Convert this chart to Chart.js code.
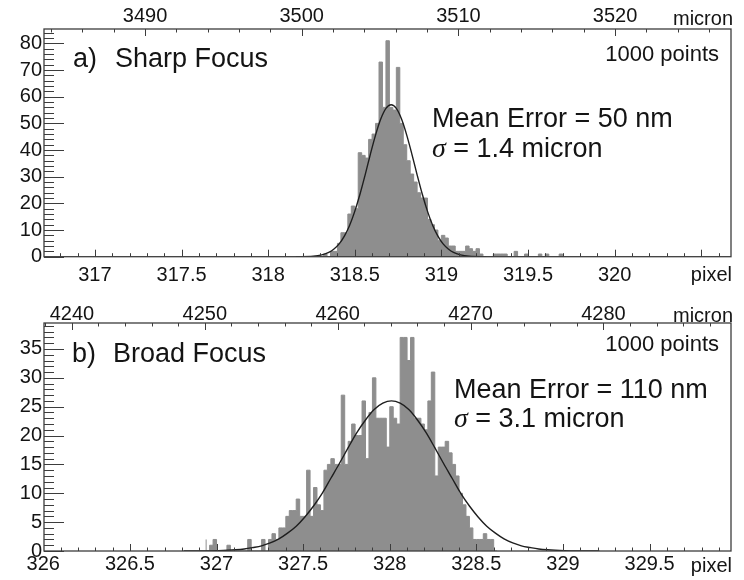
<!DOCTYPE html>
<html>
<head>
<meta charset="utf-8">
<script src="https://cdn.jsdelivr.net/npm/chart.js@4.4.0/dist/chart.umd.min.js"></script>
<style>
  html, body { margin: 0; padding: 0; background: #fff; }
  #wrap { position: relative; width: 744px; height: 580px; }
  .panel { position: absolute; left: 0; width: 744px; height: 290px; }
</style>
</head>
<body>
<div id="wrap">
  <div class="panel" style="top:0"><canvas id="chartA" width="744" height="290"></canvas></div>
  <div class="panel" style="top:290px"><canvas id="chartB" width="744" height="290"></canvas></div>
</div>
<script>
// histogram bins (width in pixel units)
const BIN_WIDTH = 0.02;

// a) sharp focus
const A_BIN_START = 318.30;
const A_COUNTS = [0, 0, 1, 0, 2, 2, 5, 9, 9, 16, 19, 18, 39, 38, 37, 44, 46, 50, 73, 56,
                  81, 56, 55, 71, 50, 42, 36, 31, 28, 24, 22, 22, 14, 12, 10, 6, 8, 7, 4, 4,
                  2, 2, 2, 4, 3, 2, 3, 1, 0, 0, 0, 1, 1, 1, 1, 0, 0, 2, 0, 0,
                  1, 0, 0, 0, 1, 0, 1, 0, 0, 0, 1];
const A_FIT_X = [318.16, 318.26, 318.31, 318.35, 318.38, 318.41, 318.44, 318.47, 318.50, 318.53,
                 318.56, 318.59, 318.62, 318.65, 318.68, 318.71, 318.74, 318.77, 318.80, 318.83,
                 318.86, 318.89, 318.92, 318.95, 318.98, 319.01, 319.04, 319.07, 319.11, 319.16, 319.26];
const A_FIT_Y = [0.01, 0.2, 0.7, 1.6, 2.9, 4.8, 7.7, 11.7, 17.0, 23.4,
                 30.7, 38.4, 45.6, 51.6, 55.6, 57.0, 55.6, 51.6, 45.6, 38.4,
                 30.7, 23.4, 17.0, 11.7, 7.7, 4.8, 2.9, 1.6, 0.7, 0.2, 0.01];
const A_PIXEL_TICKS = [317, 317.5, 318, 318.5, 319, 319.5, 320];
const A_MICRON_TICKS = [3490, 3500, 3510, 3520];
const A_COUNT_TICKS = [0, 10, 20, 30, 40, 50, 60, 70, 80];

// b) broad focus
const B_BIN_START = 326.94;
const B_COUNTS = [2, 0, 1, 2, 0, 0, 0, 1, 0, 0, 0, 0, 0, 2, 0, 0, 0, 2, 0, 2,
                  3, 2, 4, 4, 6, 7, 7, 9, 6, 6, 14, 6, 11, 8, 7, 14, 15, 16, 15, 15,
                  27, 15, 19, 22, 20, 20, 26, 16, 24, 30, 23, 23, 23, 18, 25, 23, 22, 37, 37, 33,
                  37, 23, 23, 22, 21, 26, 31, 13, 18, 18, 19, 17, 15, 13, 10, 8, 6, 4, 2, 2,
                  2, 3, 2, 2];
const B_FIT_X = [326.81, 326.91, 327.01, 327.11, 327.16, 327.21, 327.26, 327.31, 327.36, 327.41,
                 327.46, 327.51, 327.56, 327.61, 327.66, 327.71, 327.76, 327.81, 327.86, 327.91,
                 327.96, 328.01, 328.06, 328.11, 328.16, 328.21, 328.26, 328.31, 328.36, 328.41,
                 328.46, 328.51, 328.56, 328.61, 328.66, 328.71, 328.76, 328.81, 328.86, 328.91,
                 329.01, 329.11, 329.21];
const B_FIT_Y = [0.004, 0.02, 0.07, 0.21, 0.35, 0.6, 0.9, 1.4, 2.1, 3.1,
                 4.3, 5.9, 7.8, 10.0, 12.6, 15.2, 17.9, 20.5, 22.7, 24.5,
                 25.6, 26.0, 25.6, 24.5, 22.7, 20.5, 17.9, 15.2, 12.6, 10.0,
                 7.8, 5.9, 4.3, 3.1, 2.1, 1.4, 0.9, 0.6, 0.35, 0.21,
                 0.07, 0.02, 0.004];
const B_PIXEL_TICKS = [326, 326.5, 327, 327.5, 328, 328.5, 329, 329.5];
const B_MICRON_TICKS = [4240, 4250, 4260, 4270, 4280];
const B_COUNT_TICKS = [0, 5, 10, 15, 20, 25, 30, 35];

const HIST_COLOR = '#8e8e8e';
const FIT_COLOR = '#1e1e1e';
const AXIS_COLOR = '#3c3c3c';
const TEXT_COLOR = '#141414';
const SANS = "'Liberation Sans', Arial, sans-serif";
const SERIF = "'Liberation Serif', 'Times New Roman', serif";

// ticks on the inside of the frame, frame box, and the labels in the pad
const histDecor = {
    id: 'histDecor',
    afterDraw(chart, args, o) {
        const { ctx, chartArea: a, scales } = chart;
        ctx.save();
        ctx.strokeStyle = AXIS_COLOR;
        ctx.lineWidth = 1.3;
        ctx.strokeRect(a.left, a.top, a.right - a.left, a.bottom - a.top);

        const drawTicks = (scale, minor, major, lenMinor, lenMajor, side) => {
            const i0 = Math.ceil(scale.min / minor - 1e-6);
            const i1 = Math.floor(scale.max / minor + 1e-6);
            ctx.beginPath();
            for (let i = i0; i <= i1; i++) {
                const v = i * minor;
                const r = v / major;
                const len = Math.abs(r - Math.round(r)) < 1e-6 ? lenMajor : lenMinor;
                const p = Math.round(scale.getPixelForValue(v)) + 0.5;
                if (side === 'left') { ctx.moveTo(a.left, p); ctx.lineTo(a.left + len, p); }
                if (side === 'bottom') { ctx.moveTo(p, a.bottom); ctx.lineTo(p, a.bottom - len); }
                if (side === 'top') { ctx.moveTo(p, a.top); ctx.lineTo(p, a.top + len); }
            }
            ctx.lineWidth = 1;
            ctx.stroke();
        };
        drawTicks(scales.y, o.yMinor, o.yMajor, 10, 20, 'left');
        drawTicks(scales.x, 0.1, 0.5, 3.5, 7, 'bottom');
        drawTicks(scales.xTop, 2, 10, 3.5, 7, 'top');

        ctx.fillStyle = TEXT_COLOR;
        ctx.textBaseline = 'alphabetic';
        ctx.textAlign = 'left';
        ctx.font = '27px ' + SANS;
        ctx.fillText(o.tag, o.tagX, o.titleY);
        ctx.fillText(o.title, o.titleX, o.titleY);
        ctx.fillText(o.mean, o.infoX, o.meanY);
        ctx.font = 'italic 28px ' + SERIF;
        ctx.fillText('\u03c3', o.infoX, o.sigmaY);
        const sw = ctx.measureText('\u03c3').width;
        ctx.font = '27px ' + SANS;
        ctx.fillText(' = ' + o.sigma, o.infoX + sw, o.sigmaY);

        ctx.textAlign = 'right';
        ctx.font = '22px ' + SANS;
        ctx.fillText(o.points, 719, o.pointsY);
        ctx.font = '20px ' + SANS;
        ctx.fillText('micron', 733, o.micronY);
        ctx.fillText('pixel', 732, o.pixelY);
        ctx.restore();
    }
};

function histPoints(start, counts) {
    const pts = counts.map((c, i) => ({ x: start + i * BIN_WIDTH, y: c }));
    pts.push({ x: start + counts.length * BIN_WIDTH, y: 0 });
    return pts;
}

function fixedTicks(values) {
    return scale => { scale.ticks = values.map(value => ({ value })); };
}

function makeHistPanel(canvasId, cfg) {
    const tickFont = { family: SANS, size: 20, lineHeight: 1 };
    return new Chart(document.getElementById(canvasId), {
        type: 'line',
        data: {
            datasets: [{
                data: cfg.fitX.map((x, i) => ({ x, y: cfg.fitY[i] })),
                borderColor: FIT_COLOR,
                borderWidth: 1.4,
                pointRadius: 0,
                fill: false,
                cubicInterpolationMode: 'monotone',
                order: 0
            }, {
                data: histPoints(cfg.binStart, cfg.counts),
                stepped: 'after',
                fill: 'origin',
                backgroundColor: HIST_COLOR,
                borderColor: HIST_COLOR,
                borderWidth: 1,
                pointRadius: 0,
                order: 1
            }]
        },
        options: {
            responsive: false,
            animation: false,
            events: [],
            layout: { padding: { left: 0, right: 13, top: 0, bottom: 0 } },
            plugins: {
                legend: { display: false },
                tooltip: { enabled: false },
                histDecor: cfg.decor
            },
            scales: {
                x: {
                    type: 'linear', position: 'bottom',
                    min: cfg.pixMin, max: cfg.pixMax,
                    afterBuildTicks: fixedTicks(cfg.pixelTicks),
                    afterFit: s => { s.height = cfg.bottomH; },
                    grid: { display: false, drawTicks: false },
                    border: { display: false },
                    ticks: { callback: v => String(v), font: tickFont, color: TEXT_COLOR,
                             padding: cfg.bottomPad, maxRotation: 0, autoSkip: false }
                },
                xTop: {
                    type: 'linear', position: 'top',
                    min: cfg.micMin, max: cfg.micMax,
                    afterBuildTicks: fixedTicks(cfg.micronTicks),
                    afterFit: s => { s.height = cfg.topH; },
                    grid: { display: false, drawTicks: false },
                    border: { display: false },
                    ticks: { callback: v => String(v), font: tickFont, color: TEXT_COLOR,
                             padding: cfg.topPad, maxRotation: 0, autoSkip: false }
                },
                y: {
                    type: 'linear',
                    min: 0, max: cfg.yMax,
                    afterBuildTicks: fixedTicks(cfg.countTicks),
                    afterFit: s => { s.width = 44; },
                    grid: { display: false, drawTicks: false },
                    border: { display: false },
                    ticks: { callback: v => String(v), font: tickFont, color: TEXT_COLOR, padding: 2 }
                }
            }
        },
        plugins: [histDecor]
    });
}

makeHistPanel('chartA', {
    binStart: A_BIN_START, counts: A_COUNTS, fitX: A_FIT_X, fitY: A_FIT_Y,
    pixelTicks: A_PIXEL_TICKS, micronTicks: A_MICRON_TICKS, countTicks: A_COUNT_TICKS,
    pixMin: 316.706, pixMax: 320.672, micMin: 3483.55, micMax: 3527.4, yMax: 85.4,
    topH: 29, bottomH: 33.3, topPad: 2.5, bottomPad: 9,
    decor: {
        yMinor: 2, yMajor: 10,
        tag: 'a)', title: 'Sharp Focus', tagX: 73, titleX: 115, titleY: 67,
        mean: 'Mean Error = 50 nm', sigma: '1.4 micron', infoX: 432, meanY: 127, sigmaY: 157,
        points: '1000 points', pointsY: 61, micronY: 25, pixelY: 281
    }
});

makeHistPanel('chartB', {
    binStart: B_BIN_START, counts: B_COUNTS, fitX: B_FIT_X, fitY: B_FIT_Y,
    pixelTicks: B_PIXEL_TICKS, micronTicks: B_MICRON_TICKS, countTicks: B_COUNT_TICKS,
    pixMin: 326.004, pixMax: 329.97, micMin: 4237.9, micMax: 4289.6, yMax: 39.5,
    topH: 33, bottomH: 29, topPad: -1.5, bottomPad: 3.5,
    decor: {
        yMinor: 1, yMajor: 5,
        tag: 'b)', title: 'Broad Focus', tagX: 72, titleX: 113, titleY: 72,
        mean: 'Mean Error = 110 nm', sigma: '3.1 micron', infoX: 454, meanY: 108, sigmaY: 137,
        points: '1000 points', pointsY: 61, micronY: 32, pixelY: 281.6
    }
});
</script>
</body>
</html>
